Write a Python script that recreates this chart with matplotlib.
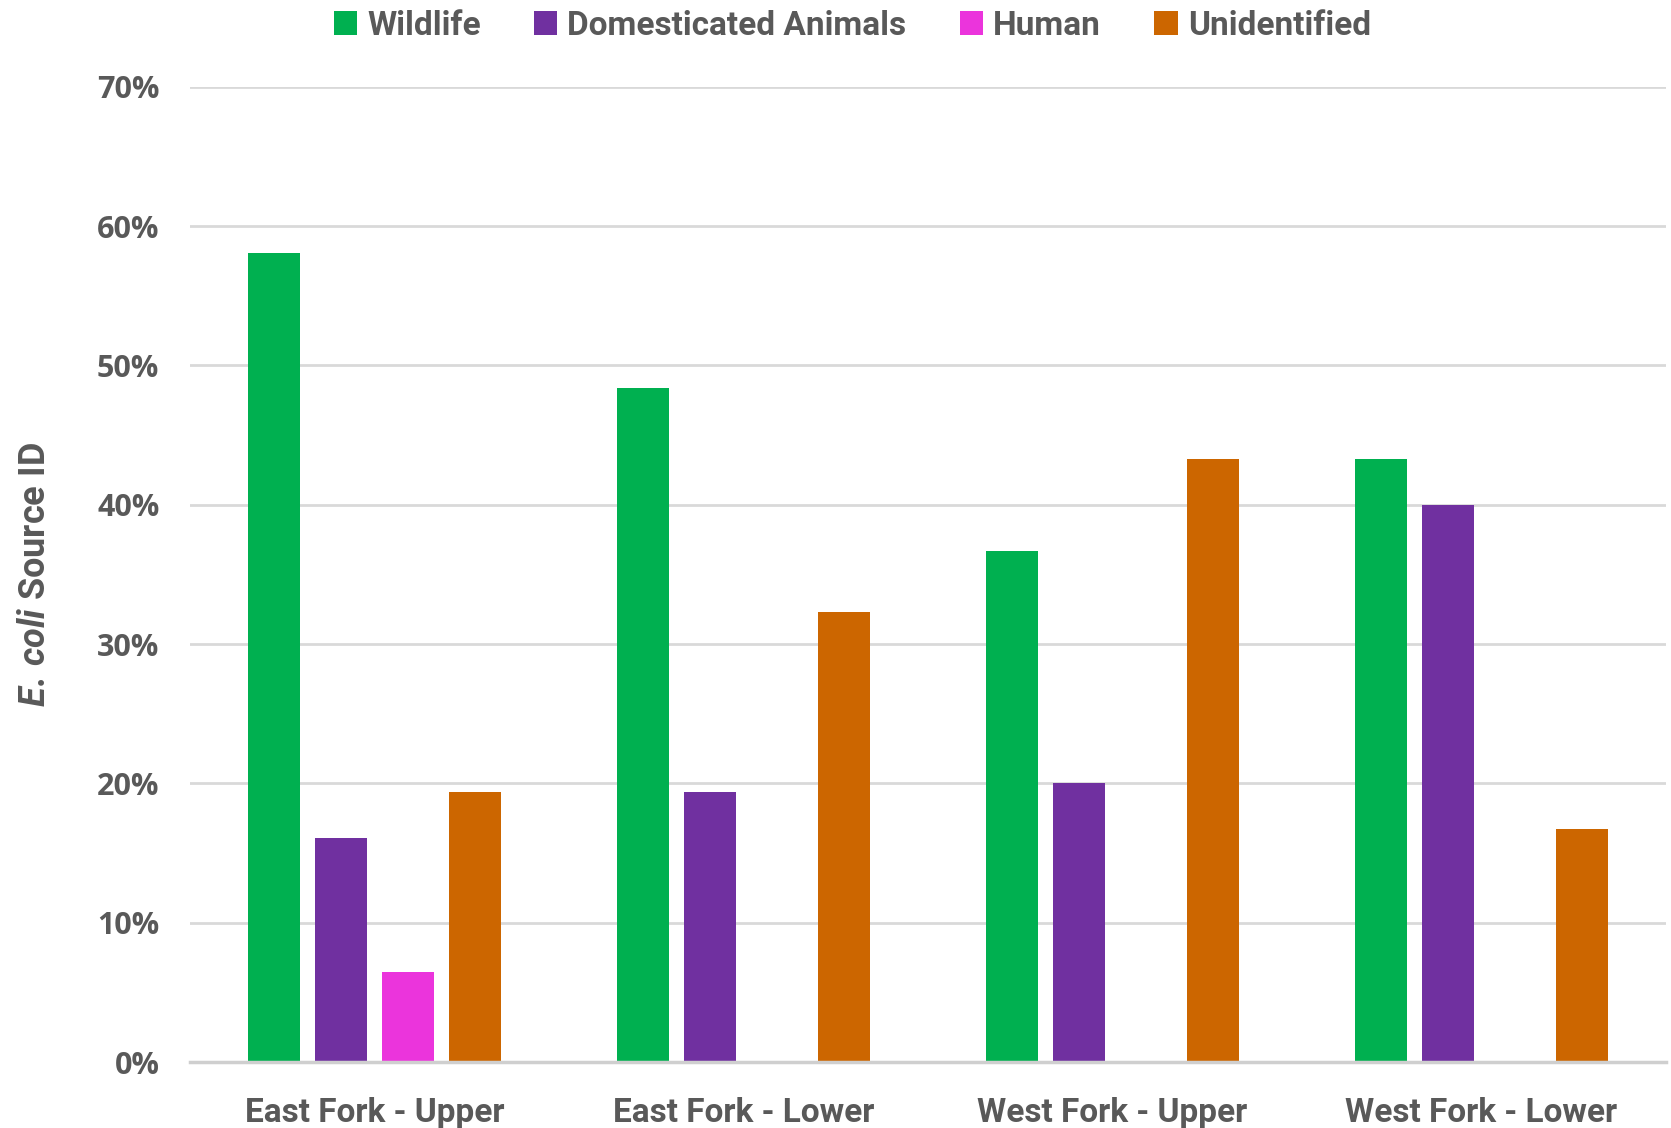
import numpy as np
import matplotlib
matplotlib.use('Agg')
import matplotlib.pyplot as plt
from matplotlib.ticker import FuncFormatter

# --- Data (fraction of isolates per source) ---
sites = ["East Fork - Upper", "East Fork - Lower", "West Fork - Upper", "West Fork - Lower"]
wildlife = [0.581, 0.484, 0.367, 0.433]
domestic = [0.161, 0.194, 0.200, 0.400]
human = [0.0645, 0.0, 0.0, 0.0]
unidentified = [0.194, 0.323, 0.433, 0.167]

series = [("Wildlife", wildlife, "#00B050"),
          ("Domesticated Animals", domestic, "#7030A0"),
          ("Human", human, "#EB34DC"),
          ("Unidentified", unidentified, "#CC6600")]

txt = "#595959"
narrow = ["Roboto", "DejaVu Sans"]
plt.rcParams['mathtext.fontset'] = 'custom'
plt.rcParams['mathtext.it'] = 'Roboto:italic:bold'
plt.rcParams['mathtext.rm'] = 'Roboto:bold'

fig = plt.figure(figsize=(16.71, 11.28), dpi=100)
ax = fig.add_axes([0.1137, 0.0585, 0.8833, 0.8645])

x = np.arange(len(sites))
slot = 0.182
width = 0.1416
for i, (name, vals, col) in enumerate(series):
    ax.bar(x + (i - 1.5) * slot, vals, width, color=col, label=name, zorder=3, linewidth=0)

ax.set_xlim(-0.5, len(sites) - 0.5)
ax.set_ylim(0, 0.7)
ax.set_yticks(np.arange(0, 0.71, 0.1))
ax.yaxis.set_major_formatter(FuncFormatter(lambda v, p: f"{v*100:.0f}%"))
ax.grid(axis="y", color="#d9d9d9", linewidth=2, zorder=0)
for s in ["top", "right", "left"]:
    ax.spines[s].set_visible(False)
ax.spines["bottom"].set_color("#cfcfcf")
ax.spines["bottom"].set_linewidth(2.5)
ax.spines["bottom"].set_zorder(4)
ax.tick_params(axis="both", length=0)
ax.tick_params(axis="y", pad=22)
ax.tick_params(axis="x", pad=25)

ax.set_xticks(x)
ax.set_xticklabels(sites, family=narrow, fontsize=24, fontweight="bold", color=txt)
for lab in ax.get_yticklabels():
    lab.set_family(["Open Sans", "DejaVu Sans"])
    lab.set_fontsize(22)
    lab.set_fontweight("bold")
    lab.set_color(txt)

ax.set_ylabel(r"$\it{E.\,coli}$ Source ID", family=narrow, fontsize=26,
              fontweight="bold", color=txt)
ax.yaxis.set_label_coords(-0.093, 0.5)

leg = fig.legend(loc="upper center", bbox_to_anchor=(0.51, 1.018), ncol=4, frameon=False,
                 prop={"family": narrow, "size": 24, "weight": "bold"},
                 handlelength=0.7, handleheight=0.7, handletextpad=0.3, columnspacing=1.6)
for t in leg.get_texts():
    t.set_color(txt)

fig.savefig("out.png", dpi=100)
